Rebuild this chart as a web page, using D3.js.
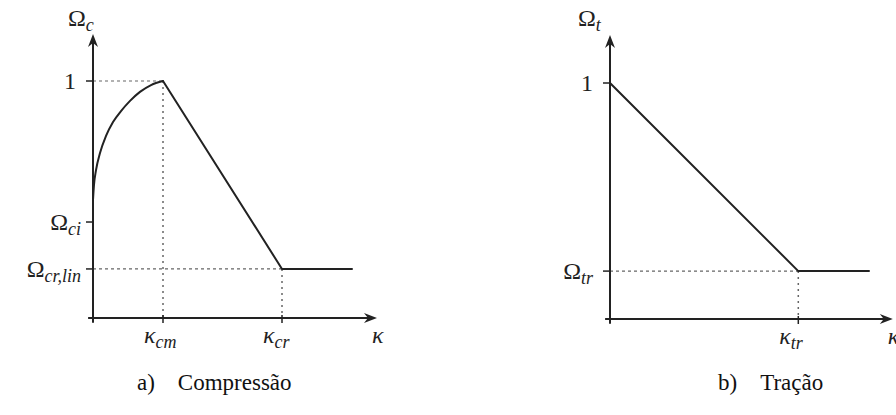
<!DOCTYPE html>
<html>
<head>
<meta charset="utf-8">
<script src="https://cdn.jsdelivr.net/npm/d3@7"></script>
<style>
  html, body { margin: 0; padding: 0; background: #fff; }
  svg { display: block; }
  .sym { font-family: "Liberation Serif", "DejaVu Serif", serif; fill: #222; }
  .cap { font-family: "Liberation Serif", serif; fill: #111; }
</style>
</head>
<body>
<svg id="chart" width="896" height="415"></svg>
<script>
// Compression damage law: rising branch (smooth), then linear softening and plateau
const compRise = [
  [0, 0.498], [0.014, 0.561], [0.043, 0.624], [0.1, 0.696], [0.186, 0.768],
  [0.286, 0.827], [0.4, 0.873], [0.529, 0.916], [0.671, 0.954], [0.829, 0.983], [1, 1]
];
const compKappa = { cm: 1, cr: 2.7, end: 3.7 };
const compOmega = { peak: 1, ci: 0.405, crlin: 0.207 };

// Tension damage law: linear softening then residual plateau
const tensKappa = { tr: 2.69, end: 3.7 };
const tensOmega = { peak: 1, tr: 0.203 };

// Axis and caption labels
const compYLabels = [
  { v: compOmega.peak, main: "1", sub: "" },
  { v: compOmega.ci, main: "Ω", sub: "ci" },
  { v: compOmega.crlin, main: "Ω", sub: "cr,lin" }
];
const compXLabels = [
  { v: compKappa.cm, main: "κ", sub: "cm" },
  { v: compKappa.cr, main: "κ", sub: "cr" }
];
const tensYLabels = [
  { v: tensOmega.peak, main: "1", sub: "" },
  { v: tensOmega.tr, main: "Ω", sub: "tr" }
];
const tensXLabels = [
  { v: tensKappa.tr, main: "κ", sub: "tr" }
];
const captions = ["a)\u2002\u2002Compressão", "b)\u2002\u2002Tração"];

const svg = d3.select("#chart");
const ink = "#222";
const dashInk = "#666";
const MAIN = 24, SUB = 18;

function symbol(g, x, y, main, sub, anchor) {
  const t = g.append("text").attr("class", "sym")
    .attr("x", x).attr("y", y).attr("text-anchor", anchor);
  t.append("tspan").attr("font-size", MAIN)
    .attr("font-style", main === "κ" ? "italic" : "normal").text(main);
  if (sub) {
    t.append("tspan").attr("font-size", SUB).attr("font-style", "italic")
      .attr("dy", 5).text(sub);
  }
  return t;
}

function panel(cfg) {
  const g = svg.append("g");
  const x = cfg.x, y = cfg.y;
  const x0 = x(0), y0 = y(0);
  const xTip = x(cfg.xMax), yTip = y(cfg.yMax);
  const line = d3.line().x(d => x(d[0])).y(d => y(d[1]));

  // guide lines
  cfg.hGuides.forEach(d => {
    g.append("line").attr("x1", x0).attr("x2", x(d.x)).attr("y1", y(d.y)).attr("y2", y(d.y))
      .attr("stroke", dashInk).attr("stroke-width", 1.2).attr("stroke-dasharray", "3,3");
  });
  cfg.vGuides.forEach(d => {
    g.append("line").attr("x1", x(d.x)).attr("x2", x(d.x)).attr("y1", y(d.y)).attr("y2", y0)
      .attr("stroke", dashInk).attr("stroke-width", 1.5).attr("stroke-dasharray", "2,4");
  });

  // axes with arrowheads
  g.append("line").attr("x1", x(cfg.xMin)).attr("x2", xTip - 6).attr("y1", y0).attr("y2", y0)
    .attr("stroke", ink).attr("stroke-width", 2);
  g.append("line").attr("x1", x0).attr("x2", x0).attr("y1", y(cfg.yMin)).attr("y2", yTip + 6)
    .attr("stroke", ink).attr("stroke-width", 2);
  g.append("path")
    .attr("d", `M${xTip},${y0} L${xTip - 13},${y0 - 5} L${xTip - 9},${y0} L${xTip - 13},${y0 + 5} Z`)
    .attr("fill", ink);
  g.append("path")
    .attr("d", `M${x0},${yTip} L${x0 - 5},${yTip + 13} L${x0},${yTip + 9} L${x0 + 5},${yTip + 13} Z`)
    .attr("fill", ink);

  // ticks
  cfg.yLabels.forEach(d => {
    g.append("line").attr("x1", x0 - 7).attr("x2", x0).attr("y1", y(d.v)).attr("y2", y(d.v))
      .attr("stroke", ink).attr("stroke-width", 1.5);
  });
  cfg.xLabels.forEach(d => {
    g.append("line").attr("x1", x(d.v)).attr("x2", x(d.v)).attr("y1", y0 - 3).attr("y2", y0 + 5)
      .attr("stroke", ink).attr("stroke-width", 1.5);
  });

  // damage curves
  cfg.paths.forEach(p => {
    g.append("path")
      .attr("d", line.curve(p.curve)(p.data))
      .attr("fill", "none").attr("stroke", ink).attr("stroke-width", 2)
      .attr("stroke-linejoin", "round").attr("stroke-linecap", "round");
  });

  // tick labels
  cfg.yLabels.forEach(d => {
    symbol(g, x0 - (d.sub ? cfg.subGap : 17), y(d.v) + 8, d.main, d.sub, "end");
  });
  cfg.xLabels.forEach(d => {
    symbol(g, x(d.v) - 19, y0 + 25, d.main, d.sub, "start");
  });
  // axis titles
  symbol(g, x0 - cfg.titleGap, 26, "Ω", cfg.yName, "start");
  symbol(g, xTip - 5, y0 + 25, "κ", "", "start");

  g.append("text").attr("class", "cap").attr("x", cfg.capX).attr("y", 390)
    .attr("font-size", 23).text(cfg.caption);
}

panel({
  x: d3.scaleLinear().domain([0, 1]).range([93, 163]),
  y: d3.scaleLinear().domain([0, 1]).range([318, 81]),
  xMin: -0.07, xMax: 4.057, yMin: -0.02, yMax: 1.198,
  paths: [
    { data: compRise, curve: d3.curveMonotoneX },
    { data: [[compKappa.cm, compOmega.peak], [compKappa.cr, compOmega.crlin],
             [compKappa.end, compOmega.crlin]], curve: d3.curveLinear }
  ],
  hGuides: [{ x: compKappa.cm, y: compOmega.peak }, { x: compKappa.cr, y: compOmega.crlin }],
  vGuides: [{ x: compKappa.cm, y: compOmega.peak }, { x: compKappa.cr, y: compOmega.crlin }],
  yLabels: compYLabels, xLabels: compXLabels,
  yName: "c", caption: captions[0], capX: 137, subGap: 12, titleGap: 25
});

panel({
  x: d3.scaleLinear().domain([0, 1]).range([610, 680]),
  y: d3.scaleLinear().domain([0, 1]).range([319, 83]),
  xMin: -0.07, xMax: 4.04, yMin: -0.02, yMax: 1.203,
  paths: [
    { data: [[0, tensOmega.peak], [tensKappa.tr, tensOmega.tr], [tensKappa.end, tensOmega.tr]],
      curve: d3.curveLinear }
  ],
  hGuides: [{ x: tensKappa.tr, y: tensOmega.tr }],
  vGuides: [{ x: tensKappa.tr, y: tensOmega.tr }],
  yLabels: tensYLabels, xLabels: tensXLabels,
  yName: "t", caption: captions[1], capX: 718, subGap: 17, titleGap: 32
});
</script>
</body>
</html>
